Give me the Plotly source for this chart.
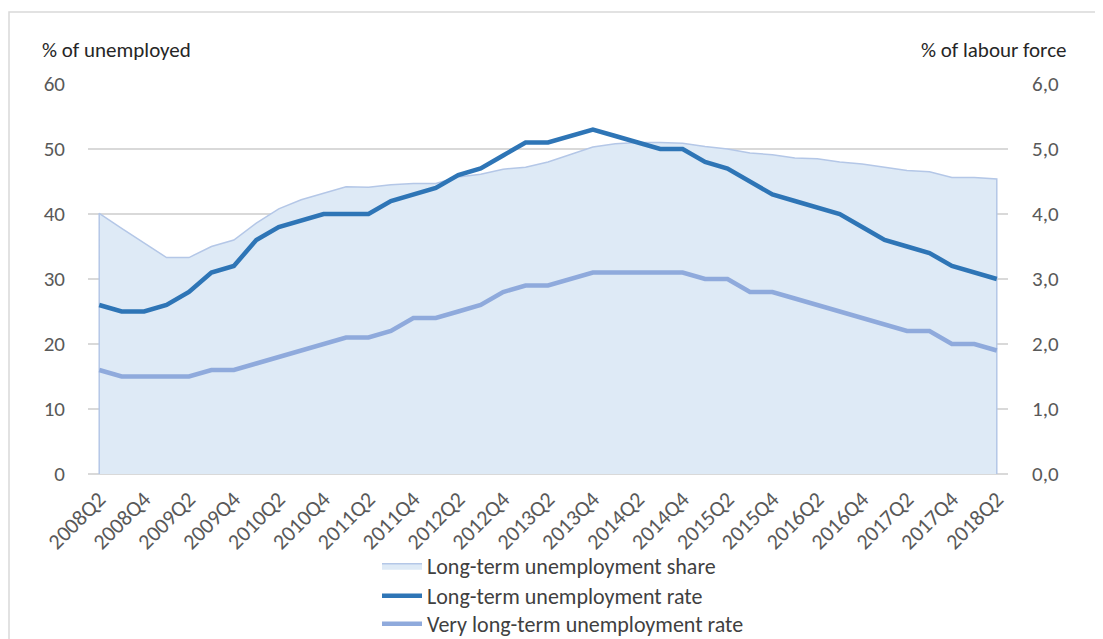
import plotly.graph_objects as go

quarters = []
for yr in range(2008, 2019):
    for q in range(1, 5):
        lab = f"{yr}Q{q}"
        if (yr == 2008 and q < 2) or (yr == 2018 and q > 2):
            continue
        quarters.append(lab)

lt_share = [40.1, 37.8, 35.6, 33.3, 33.3, 35.0, 36.0, 38.6, 40.8, 42.2,
            43.2, 44.2, 44.1, 44.5, 44.7, 44.7, 45.7, 46.1, 46.9, 47.2,
            48.0, 49.1, 50.3, 50.8, 51.0, 51.0, 50.9, 50.4, 50.0, 49.4,
            49.1, 48.6, 48.5, 48.0, 47.7, 47.2, 46.7, 46.5, 45.6, 45.6, 45.4]

lt_rate = [2.6, 2.5, 2.5, 2.6, 2.8, 3.1, 3.2, 3.6, 3.8, 3.9,
           4.0, 4.0, 4.0, 4.2, 4.3, 4.4, 4.6, 4.7, 4.9, 5.1,
           5.1, 5.2, 5.3, 5.2, 5.1, 5.0, 5.0, 4.8, 4.7, 4.5,
           4.3, 4.2, 4.1, 4.0, 3.8, 3.6, 3.5, 3.4, 3.2, 3.1, 3.0]

vlt_rate = [1.6, 1.5, 1.5, 1.5, 1.5, 1.6, 1.6, 1.7, 1.8, 1.9,
            2.0, 2.1, 2.1, 2.2, 2.4, 2.4, 2.5, 2.6, 2.8, 2.9,
            2.9, 3.0, 3.1, 3.1, 3.1, 3.1, 3.1, 3.0, 3.0, 2.8,
            2.8, 2.7, 2.6, 2.5, 2.4, 2.3, 2.2, 2.2, 2.0, 2.0, 1.9]

tick_labels = quarters[::2]

FONT = "Carlito, Calibri, Lato, sans-serif"
OFF = 8  # page body margin
W, H = 1103 - OFF, 639 - OFF
L, T = 88 - OFF, 84 - OFF
R = W - (1008 - OFF)
B = H - (474 - OFF)
pw, ph = W - L - R, H - T - B

def px(x):
    return (x - OFF - L) / pw

def py(y):
    return (H - B - (y - OFF)) / ph

idx = list(range(len(quarters)))

fig = go.Figure()
fig.add_trace(go.Scatter(
    x=[idx[0]] + idx + [idx[-1]], y=[0] + lt_share + [0],
    fill="toself", fillcolor="#deeaf6",
    line=dict(color="#b4c7e7", width=1.5),
    mode="lines", name="Long-term unemployment share",
    hoverinfo="skip", legend="legend",
))
fig.add_trace(go.Scatter(
    x=idx, y=lt_rate, yaxis="y2", mode="lines",
    line=dict(color="#2e75b6", width=4.5),
    name="Long-term unemployment rate", legend="legend2",
))
fig.add_trace(go.Scatter(
    x=idx, y=vlt_rate, yaxis="y2", mode="lines",
    line=dict(color="#8faadc", width=4.5),
    name="Very long-term unemployment rate", legend="legend3",
))

LEG_X = px(377)
def leg(yc):
    return dict(
        orientation="v", x=LEG_X, y=py(yc), xanchor="left", yanchor="middle",
        font=dict(family=FONT, size=22, color="#404040"),
        bgcolor="rgba(0,0,0,0)", itemwidth=40,
    )

fig.update_layout(
    width=W, height=H,
    margin=dict(l=L, r=R, t=T, b=B, autoexpand=False),
    paper_bgcolor="white", plot_bgcolor="white",
    separators=",.",
    font=dict(family=FONT, color="#595959", size=20),
    showlegend=True,
    legend=leg(566),
    legend2=leg(596),
    legend3=leg(624),
    xaxis=dict(
        range=[-0.5, len(quarters) - 0.5],
        tickmode="array", tickvals=idx[::2], ticktext=tick_labels,
        tickangle=-45, tickfont=dict(size=22, color="#595959"),
        showgrid=False, zeroline=False, showline=False, ticks="",
        automargin=False, ticklabelstandoff=7,
    ),
    yaxis=dict(
        range=[0, 60], dtick=10, showgrid=True, gridcolor="#d9d9d9",
        gridwidth=1.5, zeroline=True, zerolinecolor="#d9d9d9", zerolinewidth=1.5,
        tickfont=dict(size=21, color="#595959"), ticklabelstandoff=22,
        automargin=False,
    ),
    yaxis2=dict(
        range=[0, 6], dtick=1, overlaying="y", side="right",
        tickformat=".1f", showgrid=False, zeroline=False,
        tickfont=dict(size=21, color="#595959"), ticklabelstandoff=23,
        automargin=False,
    ),
    shapes=[
        dict(type="rect", xref="paper", yref="paper",
             x0=px(OFF + 1), x1=px(1110), y0=py(12), y1=py(700),
             line=dict(color="#d9d9d9", width=1.5), fillcolor="rgba(0,0,0,0)",
             layer="below"),
    ],
    annotations=[
        dict(text="% of unemployed", xref="paper", yref="paper",
             x=px(40), y=py(50), xanchor="left", yanchor="middle",
             showarrow=False, font=dict(family=FONT, size=21, color="#262626")),
        dict(text="% of labour force", xref="paper", yref="paper",
             x=px(1068), y=py(50), xanchor="right", yanchor="middle",
             showarrow=False, font=dict(family=FONT, size=21, color="#262626")),
    ],
)

fig.write_html("out.html")
